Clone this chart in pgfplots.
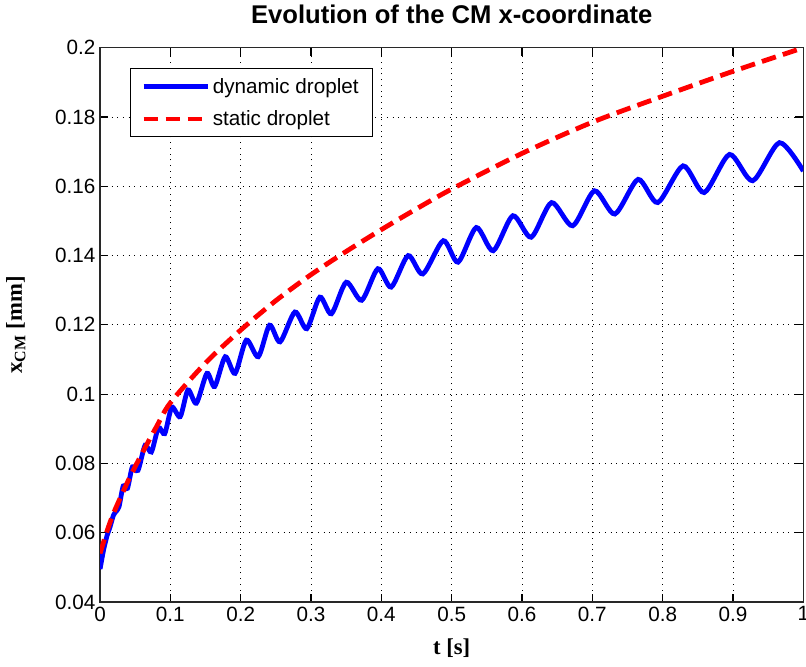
\documentclass[border=0pt]{standalone}
\usepackage{pgfplots}
\pgfplotsset{compat=1.18}
\usepackage{fontspec}
\setmainfont{Liberation Sans}
\newfontfamily\lserif{Liberation Serif}
\newcommand{\fs}{\fontsize{15.5}{18.6}\selectfont}
\definecolor{gridc}{RGB}{40,40,40}
\begin{document}
\begin{tikzpicture}
\begin{axis}[
  name=ax,
  scale only axis,
  width=527.25pt, height=415.5pt,
  xmin=0, xmax=1, ymin=0.04, ymax=0.2,
  xtick={0,0.1,...,1.0},
  ytick={0.04,0.06,...,0.2},
  xticklabels={0,0.1,0.2,0.3,0.4,0.5,0.6,0.7,0.8,0.9,1},
  yticklabels={0.04,0.06,0.08,0.1,0.12,0.14,0.16,0.18,0.2},
  tick align=inside,
  major tick length=6pt,
  tick style={black, line width=0.8pt},
  axis line style={gridc, line width=0.9pt},
  grid=major,
  major grid style={black, line width=0.7pt, dash pattern=on 0.7pt off 3.6pt},
  ticklabel style={font=\fs},
  /pgf/number format/assume math mode=true,
  title={\textbf{Evolution of the CM x-coordinate}},
  title style={font=\fontsize{19.2}{22}\selectfont, at={(0.5,1)}, anchor=base, yshift=12.5pt},
  xlabel={\textbf{t [s]}},
  ylabel={\textbf{x\textsubscript{CM} [mm]}},
  xlabel style={font=\lserif\fontsize{17}{20}\selectfont, at={(axis description cs:0.5,0)}, anchor=base, yshift=-39.5pt},
  ylabel style={font=\lserif\fontsize{17}{20}\selectfont, at={(axis description cs:-0.111,0.5)}, anchor=base},
  legend style={at={(0.0427,0.963)}, anchor=north west, draw=black, line width=0.8pt,
    font=\fs, row sep=7.5pt, inner xsep=8pt, inner ysep=5pt},
  legend cell align=left,
  legend image code/.code={\draw[#1] (0pt,0pt) -- (48pt,0pt);},
]
\addplot[blue, line width=3.6pt, smooth, tension=0.45] coordinates {
(0,0.0495) (0.005,0.0550) (0.010,0.0592) (0.014,0.0615) (0.019,0.0650) (0.023,0.0662)
(0.027,0.0675) (0.033,0.0735) (0.039,0.0728) (0.046,0.0790) (0.054,0.0780)
(0.064,0.0852) (0.073,0.0833) (0.083,0.0903) (0.092,0.0886) (0.102,0.0962) (0.114,0.0935)
(0.125,0.1012) (0.137,0.0974) (0.152,0.1060) (0.163,0.1022) (0.178,0.1108) (0.192,0.1060)
(0.208,0.1156) (0.225,0.1108) (0.241,0.1199) (0.256,0.1151) (0.277,0.1237) (0.294,0.1189)
(0.3125,0.1280) (0.329,0.1232) (0.350,0.1323) (0.372,0.1271) (0.395,0.1362) (0.414,0.1309)
(0.438,0.1400) (0.459,0.1347) (0.488,0.1443) (0.509,0.1381) (0.535,0.1481) (0.559,0.1414)
(0.587,0.1515) (0.613,0.1453) (0.642,0.1553) (0.672,0.1486) (0.703,0.1587) (0.732,0.1520)
(0.765,0.1620) (0.793,0.1553) (0.829,0.1659) (0.859,0.1582) (0.895,0.1692) (0.928,0.1616)
(0.966,0.1726) (1.0,0.1644)
};
\addlegendentry{dynamic droplet}
\addplot[red, line width=3.6pt, dash pattern=on 11pt off 5.5pt, smooth] coordinates {
(0,0.054) (0.01,0.0605) (0.02,0.066) (0.04,0.075) (0.06,0.083) (0.08,0.0905) (0.1,0.0975)
(0.15,0.109) (0.2,0.1185) (0.25,0.127) (0.3,0.1345) (0.35,0.1412) (0.4,0.1475) (0.45,0.1535)
(0.5,0.1592) (0.6,0.1695) (0.7,0.1785) (0.8,0.186) (0.9,0.1932) (1.0,0.2)
};
\addlegendentry{static droplet}
\end{axis}
\pgfresetboundingbox
\path[use as bounding box] ([xshift=-75pt,yshift=-48.2pt]ax.south west) rectangle ([xshift=2pt,yshift=35.8pt]ax.north east);
\end{tikzpicture}
\end{document}
